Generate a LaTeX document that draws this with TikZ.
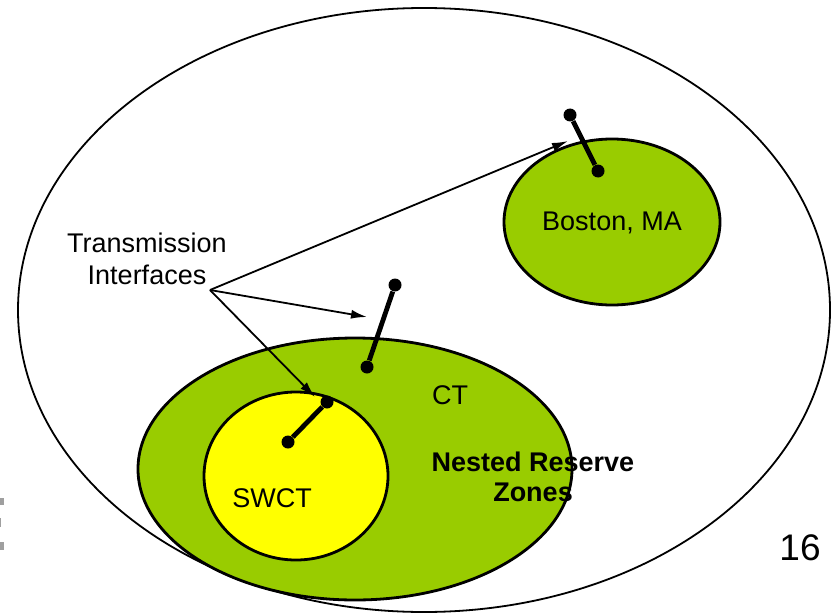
\documentclass[tikz,border=0pt]{standalone}
\usepackage{fontspec}
\setmainfont{Liberation Sans}
\usetikzlibrary{shapes.geometric,arrows.meta}
\definecolor{zonegreen}{RGB}{153,204,0}
\definecolor{zoneyellow}{RGB}{255,255,0}
\tikzset{region/.style={draw,ellipse,inner sep=0pt,line width=0.9pt},
	zone/.style={region,line width=1.4pt},
	tiept/.style={circle,fill,inner sep=0pt,minimum size=6.5pt},
	tie/.style={line width=2.4pt},
	pointer/.style={-{Latex[length=8pt,width=4.5pt]},line width=0.9pt},
	lbl/.style={font=\fontsize{13.5}{16}\selectfont}}

\begin{document}
\begin{tikzpicture}[x=0.5pt,y=-0.5pt]
\useasboundingbox (0,0) rectangle (834,615);
% the whole system and the nested zones
\node [region,minimum width=406pt,minimum height=302pt] (all) at (424,310) {};
\node [zone,fill=zonegreen,minimum width=217pt,minimum height=131pt] (ct) at (355,469) {};
\node [zone,fill=zoneyellow,minimum width=92pt,minimum height=84pt] (swct) at (296,476) {};
\node [zone,fill=zonegreen,minimum width=108pt,minimum height=83pt] (boston) at (612,222) {};
% zone names
\node [lbl] (bostonlbl) at (612,223) {Boston, MA};
\node [lbl] (ctlbl) at (450,395) {CT};
\node [lbl] (swctlbl) at (272,498) {SWCT};
\node [lbl,font=\fontsize{13.5}{15}\bfseries,align=center] (nested) at (533,477) {Nested Reserve\\Zones};
% interfaces
\node [tiept] (bo1) at (570,115) {};
\node [tiept] (bo2) at (598,171) {};
\node [tiept] (ct1) at (395,285) {};
\node [tiept] (ct2) at (367,367) {};
\node [tiept] (sw1) at (327,402) {};
\node [tiept] (sw2) at (288,442) {};
\draw [tie] (bo1) -- (bo2);
\draw [tie] (ct1) -- (ct2);
\draw [tie] (sw1) -- (sw2);
% label and its pointers
\node [lbl,align=center] (ti) at (147,259) {Transmission\\Interfaces};
\coordinate (tifoot) at (210,290);
\coordinate (toboston) at (568,141);
\coordinate (toct) at (367,317);
\coordinate (toswct) at (315,397);
\draw [pointer] (tifoot) -- (toboston);
\draw [pointer] (tifoot) -- (toct);
\draw [pointer] (tifoot) -- (toswct);
% page number and edge marks
\node [font=\fontsize{18.5}{20}\selectfont] (pg) at (800,548) {16};
\fill [gray!75] (0,498) rectangle (3.5,505);
\fill [gray!75] (0,518) rectangle (1,527);
\fill [gray!75] (0,542) rectangle (4,550);
\end{tikzpicture}
\end{document}
